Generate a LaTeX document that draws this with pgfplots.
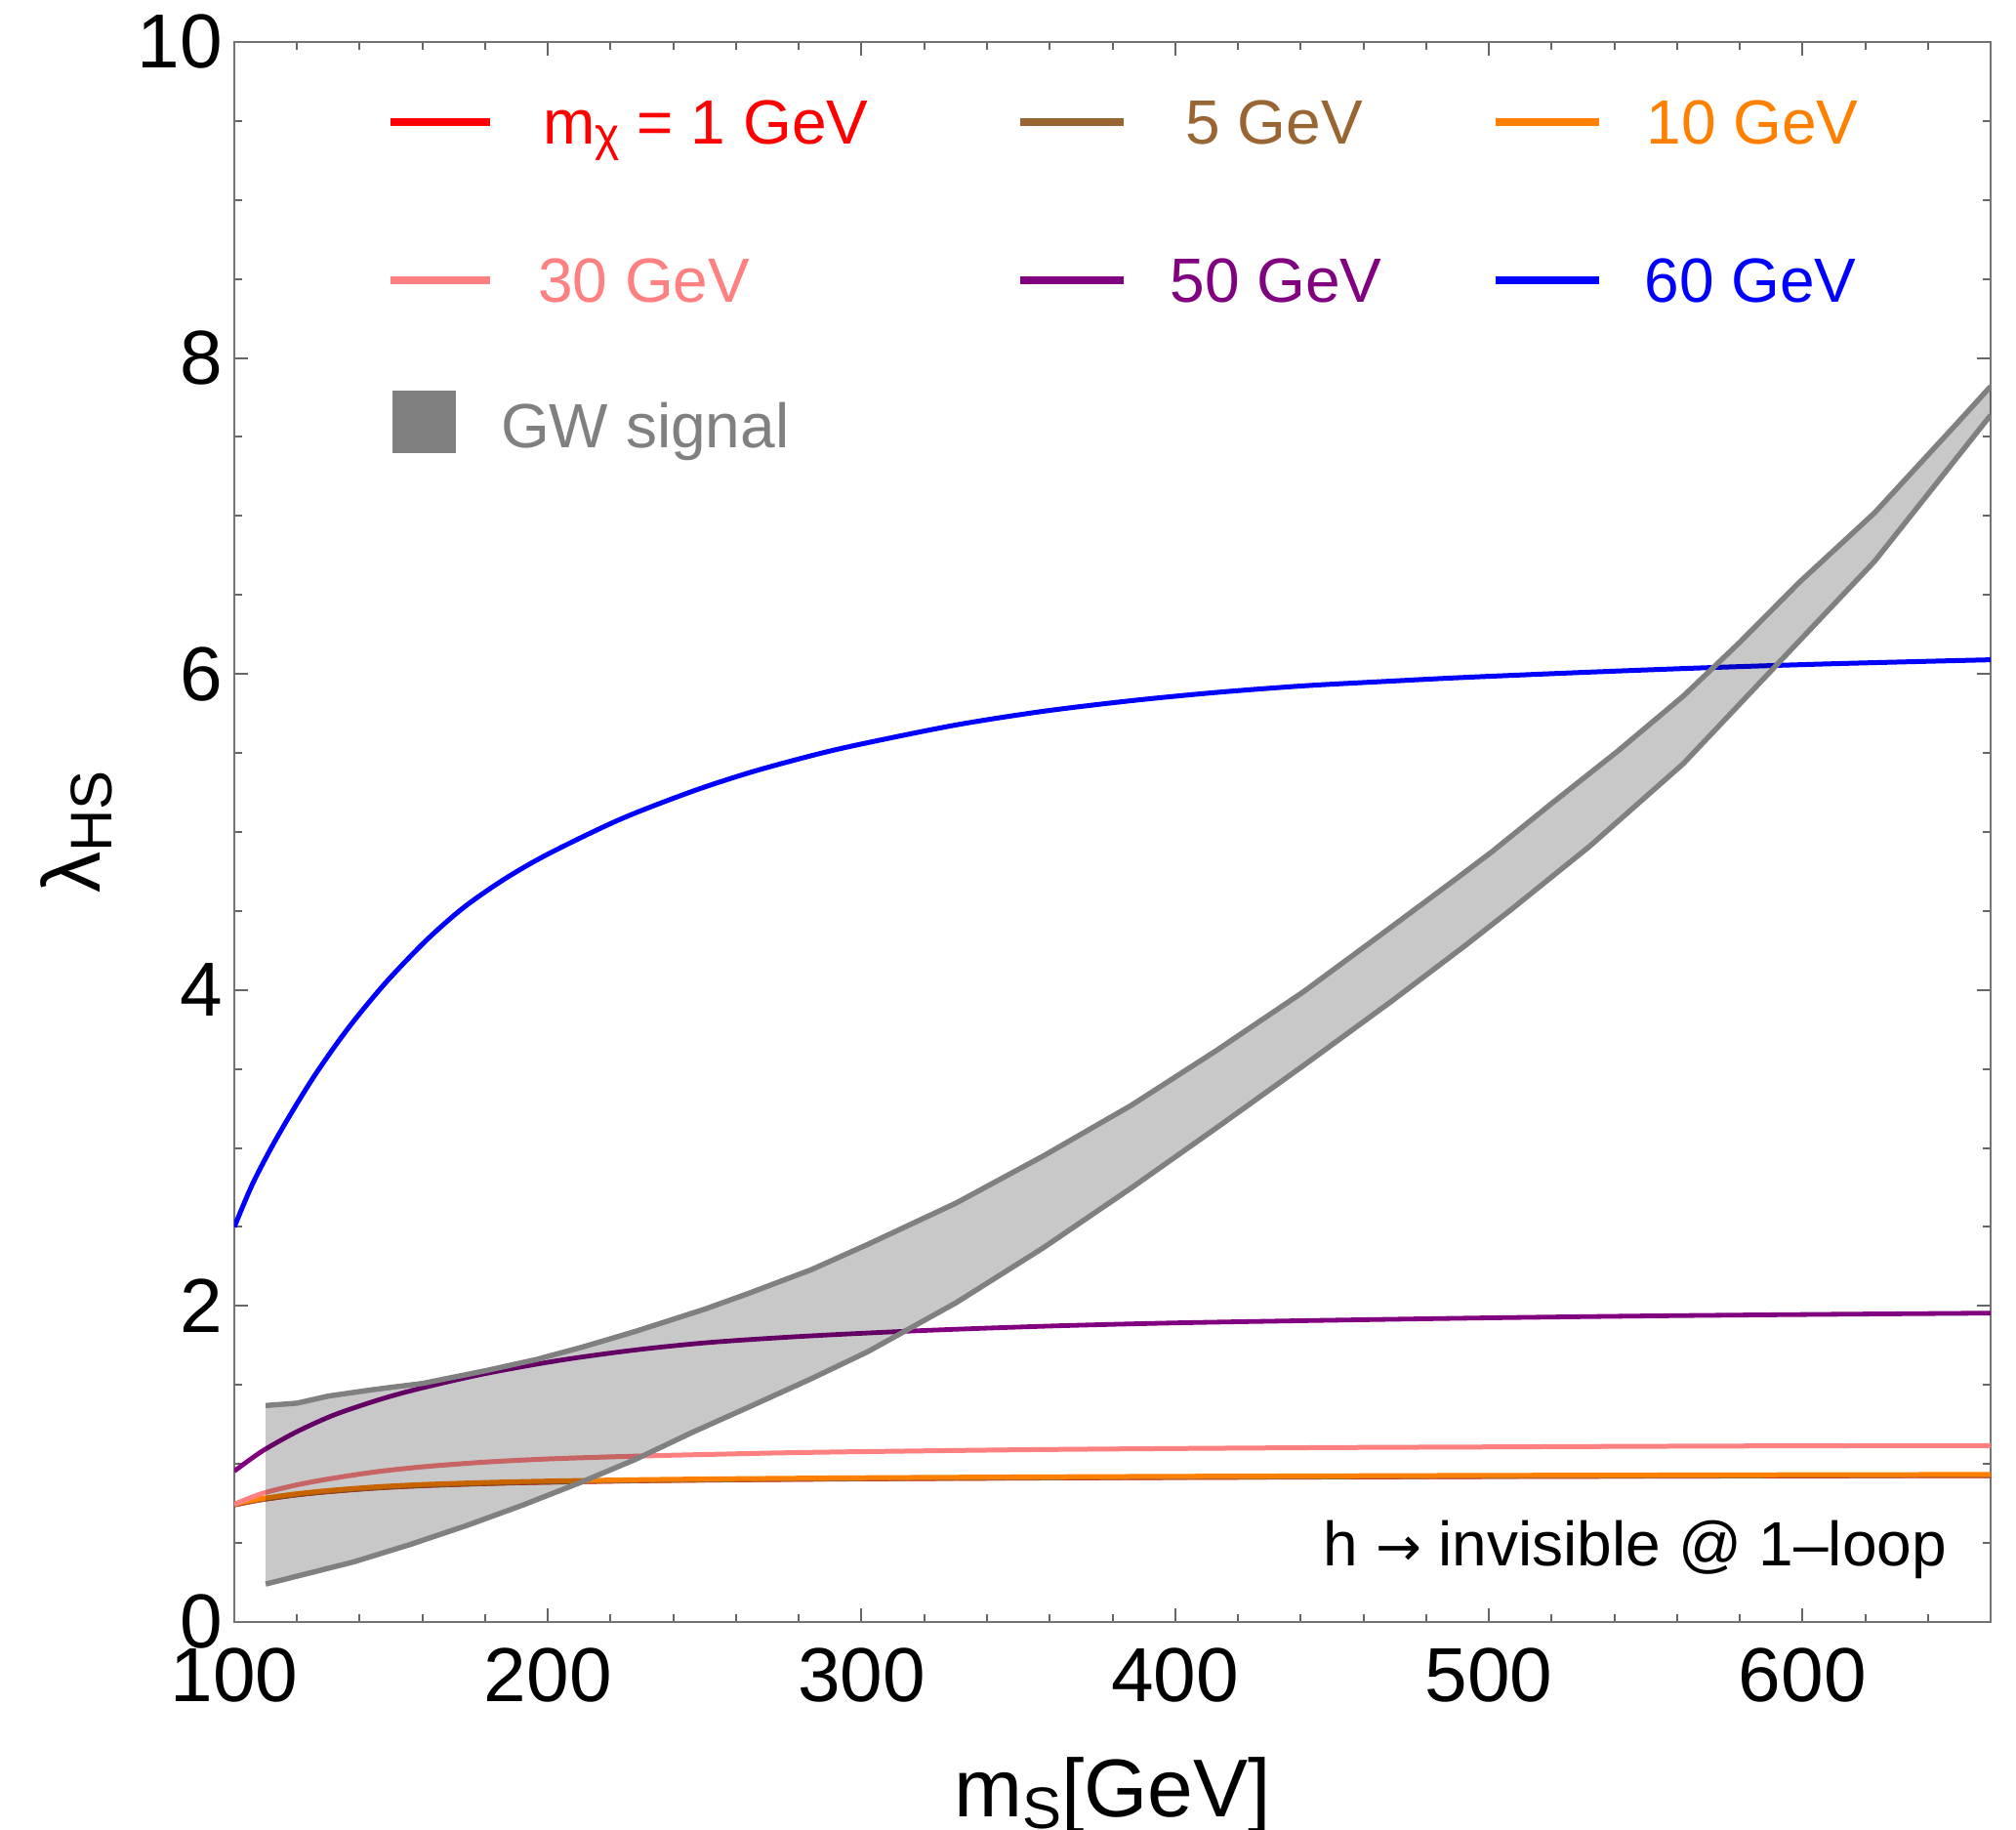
\documentclass[border=0pt]{standalone}
\usepackage{pgfplots}
\pgfplotsset{compat=1.18}
\usepackage{fontspec}
\setmainfont{Liberation Sans}
\newfontfamily\dejavu{DejaVu Sans}
\definecolor{mred}{rgb}{1,0,0}
\definecolor{mbrown}{rgb}{0.6,0.4,0.2}
\definecolor{morange}{rgb}{1,0.5,0}
\definecolor{mpink}{rgb}{1,0.5,0.5}
\definecolor{mpurple}{rgb}{0.5,0,0.5}
\definecolor{mblue}{rgb}{0,0,1}
\definecolor{mgray}{rgb}{0.5,0.5,0.5}
\newcommand{\legfont}{\fontsize{16}{19}\selectfont}
\newcommand{\labfont}{\fontsize{21}{25}\selectfont}
\newcommand{\labsub}[1]{\raisebox{-3pt}{\fontsize{15}{15}\selectfont #1}}
\newcommand{\legsub}[1]{\raisebox{-1.8pt}{\fontsize{12}{12}\selectfont #1}}
\begin{document}
\begin{tikzpicture}
\begin{axis}[
  scale only axis, width=449.75pt, height=404.5pt,
  at={(0,0)}, anchor=south west,
  xmin=100, xmax=660, ymin=0, ymax=10,
  xtick={100,200,...,600}, ytick={0,2,...,10},
  minor xtick={100,120,...,660}, minor ytick={0,0.5,...,10},
  tick align=inside,
  major tick length=3.5pt, minor tick length=2.1pt,
  every tick/.style={color=black!60, line width=0.5pt},
  axis line style={color=black!55, line width=0.5pt},
  tick label style={font=\fontsize{19.6}{23}\selectfont},
  /pgf/number format/assume math mode=true,
  xticklabel style={inner sep=0pt, yshift=-6.5pt},
  yticklabel style={inner sep=0pt, xshift=-2.8pt},
  xlabel={m\labsub{S}[GeV]},
  ylabel={λ\labsub{HS}},
  xlabel style={at={(axis description cs:0.5,-0.1236)}, anchor=base, inner sep=0pt, font=\labfont},
  ylabel style={at={(axis description cs:-0.0767,0.5)}, anchor=base, inner sep=0pt, font=\labfont},
  clip=true,
]
% m_chi = 1 GeV
\addplot[mred, line width=1.25pt, smooth] coordinates {
(100,0.741) (105,0.761) (110,0.778) (120,0.805) (130,0.825) (145,0.848) (160,0.863) (180,0.876) (200,0.885) (230,0.894) (260,0.900) (300,0.906) (350,0.911) (400,0.915) (450,0.918) (500,0.921) (550,0.923) (600,0.925) (660,0.927)};
% 5 GeV
\addplot[mbrown, line width=1.25pt, smooth] coordinates {
(100,0.742) (105,0.762) (110,0.779) (120,0.806) (130,0.826) (145,0.849) (160,0.864) (180,0.877) (200,0.886) (230,0.895) (260,0.901) (300,0.907) (350,0.912) (400,0.916) (450,0.919) (500,0.922) (550,0.924) (600,0.926) (660,0.928)};
% 10 GeV
\addplot[morange, line width=1.25pt, smooth] coordinates {
(100,0.748) (105,0.768) (110,0.785) (120,0.812) (130,0.832) (145,0.855) (160,0.870) (180,0.883) (200,0.892) (230,0.901) (260,0.907) (300,0.913) (350,0.918) (400,0.922) (450,0.925) (500,0.928) (550,0.930) (600,0.932) (660,0.934)};
% 30 GeV
\addplot[mpink, line width=1.25pt, smooth] coordinates {
(100,0.745) (105,0.785) (110,0.820) (120,0.868) (130,0.905) (145,0.950) (160,0.982) (180,1.012) (200,1.032) (225,1.048) (250,1.060) (285,1.074) (350,1.090) (400,1.098) (450,1.104) (500,1.108) (550,1.112) (600,1.115) (660,1.117)};
% 50 GeV
\addplot[mpurple, line width=1.2pt, smooth] coordinates {
(100,0.955) (105,1.028) (110,1.095) (120,1.205) (132,1.312) (147,1.412) (160,1.482) (180,1.572) (204,1.657) (228,1.722) (252,1.770) (283,1.810) (320,1.845) (360,1.873) (400,1.893) (450,1.910) (500,1.925) (550,1.937) (600,1.946) (660,1.955)};
% 60 GeV
\addplot[mblue, line width=1.25pt, smooth] coordinates {
(100,2.50) (106,2.78) (114,3.08) (125,3.44) (136,3.75) (148,4.04) (161,4.31) (173,4.52) (186,4.70) (200,4.86) (223,5.08) (246,5.257) (265,5.38) (285,5.488) (300,5.557) (330,5.677) (358,5.764) (386,5.831) (413,5.883) (441,5.925) (469,5.955) (492,5.978) (530,6.01) (570,6.04) (610,6.065) (660,6.09)};
% GW signal band
\addplot[draw=none, fill=black, fill opacity=0.216] coordinates {
(110,1.37) (120,1.385) (130,1.43) (144,1.47) (160,1.51) (180,1.59) (196,1.66) (211,1.74) (228,1.84) (250,1.98) (264,2.08) (284,2.23) (302,2.39) (330,2.65) (358,2.95) (386,3.27) (413,3.615) (441,3.99) (469,4.40) (490,4.71) (501,4.875) (520,5.18) (541,5.51) (562,5.86) (580,6.20) (599,6.58) (623,7.02) (649,7.58) (660,7.82)
(660,7.638) (648,7.338) (623,6.713) (591,6.041) (562,5.432) (532,4.907) (507,4.507) (492,4.274) (469,3.929) (441,3.523) (413,3.125) (386,2.747) (358,2.369) (330,2.019) (302,1.711) (284,1.54) (264,1.36) (246,1.20) (228,1.03) (210,0.88) (192,0.74) (174,0.61) (156,0.49) (138,0.38) (120,0.29) (110,0.24)} -- cycle;
\addplot[mgray, line width=1.35pt, line join=round] coordinates {
(110,1.37) (120,1.385) (130,1.43) (144,1.47) (160,1.51) (180,1.59) (196,1.66) (211,1.74) (228,1.84) (250,1.98) (264,2.08) (284,2.23) (302,2.39) (330,2.65) (358,2.95) (386,3.27) (413,3.615) (441,3.99) (469,4.40) (490,4.71) (501,4.875) (520,5.18) (541,5.51) (562,5.86) (580,6.20) (599,6.58) (623,7.02) (649,7.58) (660,7.82)};
\addplot[mgray, line width=1.35pt, line join=round] coordinates {
(110,0.24) (120,0.29) (138,0.38) (156,0.49) (174,0.61) (192,0.74) (210,0.88) (228,1.03) (246,1.20) (264,1.36) (284,1.54) (302,1.711) (330,2.019) (358,2.369) (386,2.747) (413,3.125) (441,3.523) (469,3.929) (492,4.274) (507,4.507) (532,4.907) (562,5.432) (591,6.041) (623,6.713) (648,7.338) (660,7.638)};
% legend
\draw[mred, line width=2.2pt] (axis description cs:0.0887,0.9493) -- (axis description cs:0.1454,0.9493);
\draw[mbrown, line width=2.2pt] (axis description cs:0.4474,0.9493) -- (axis description cs:0.5065,0.9493);
\draw[morange, line width=2.2pt] (axis description cs:0.7181,0.9493) -- (axis description cs:0.7771,0.9493);
\draw[mpink, line width=2.2pt] (axis description cs:0.0887,0.8492) -- (axis description cs:0.1454,0.8492);
\draw[mpurple, line width=2.2pt] (axis description cs:0.4474,0.8492) -- (axis description cs:0.5065,0.8492);
\draw[mblue, line width=2.2pt] (axis description cs:0.7181,0.8492) -- (axis description cs:0.7771,0.8492);
\fill[mgray] (axis description cs:0.0898,0.7398) rectangle (axis description cs:0.1260,0.7793);
\node[anchor=base west, inner sep=0pt, text=mred, font=\legfont] at (axis description cs:0.1755,0.9357) {m\legsub{χ} = 1 GeV};
\node[anchor=base west, inner sep=0pt, text=mbrown, font=\legfont] at (axis description cs:0.5413,0.9357) {5 GeV};
\node[anchor=base west, inner sep=0pt, text=morange, font=\legfont] at (axis description cs:0.8036,0.9357) {10 GeV};
\node[anchor=base west, inner sep=0pt, text=mpink, font=\legfont] at (axis description cs:0.1725,0.8350) {30 GeV};
\node[anchor=base west, inner sep=0pt, text=mpurple, font=\legfont] at (axis description cs:0.5324,0.8350) {50 GeV};
\node[anchor=base west, inner sep=0pt, text=mblue, font=\legfont] at (axis description cs:0.8025,0.8350) {60 GeV};
\node[anchor=base west, inner sep=0pt, text=mgray, font=\legfont] at (axis description cs:0.1514,0.7435) {GW signal};
\node[anchor=base east, inner sep=0pt, font=\legfont] at (axis description cs:0.9755,0.0358) {h {\dejavu\fontsize{14}{16}\selectfont →} invisible @ 1–loop};
\end{axis}
\pgfresetboundingbox
\path[use as bounding box] (-60pt,-53pt) rectangle (456.25pt,415.25pt);
\end{tikzpicture}
\end{document}
